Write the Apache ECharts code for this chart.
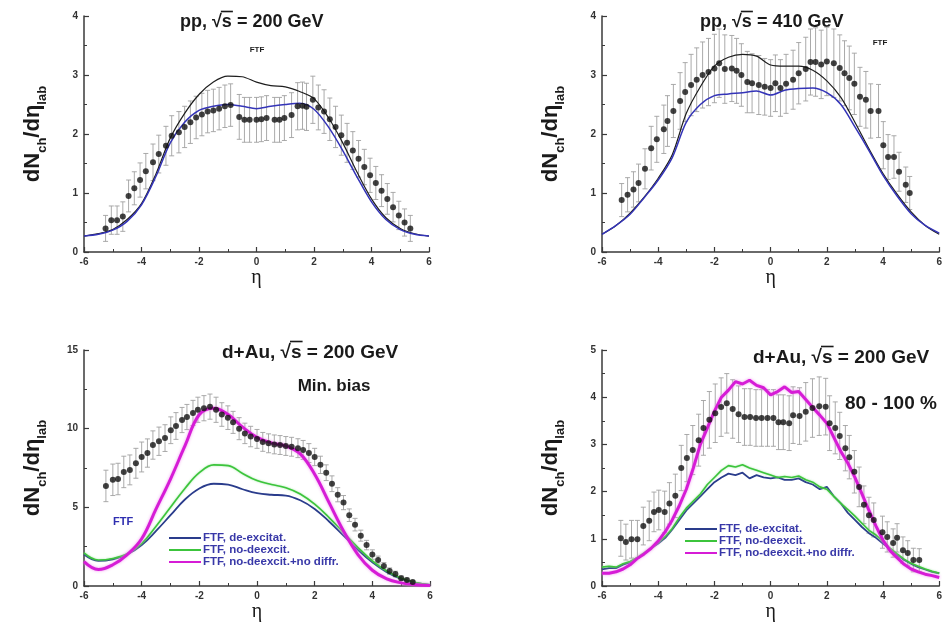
<!DOCTYPE html>
<html><head><meta charset="utf-8">
<script src="https://cdn.jsdelivr.net/npm/echarts@6/dist/echarts.min.js"></script>
<style>html,body{margin:0;padding:0;background:#fff}#c{width:945px;height:625px}</style>
</head><body><div id="c"></div>
<script>
// ---------- curve grids ----------
const eta05 = [-6,-5.5,-5,-4.5,-4,-3.5,-3,-2.5,-2,-1.5,-1,-0.5,0,0.5,1,1.5,2,2.5,3,3.5,4,4.5,5,5.5,6];
const eta025 = [-6,-5.75,-5.5,-5.25,-5,-4.75,-4.5,-4.25,-4,-3.75,-3.5,-3.25,-3,-2.75,-2.5,-2.25,-2,-1.75,-1.5,-1.25,-1,-0.75,-0.5,-0.25,0,0.25,0.5,0.75,1,1.25,1.5,1.75,2,2.25,2.5,2.75,3,3.25,3.5,3.75,4,4.25,4.5,4.75,5,5.25,5.5,5.75,6];

// ---------- panel 1: pp 200 GeV ----------
const p1Black = [0.27,0.31,0.38,0.55,0.82,1.32,1.93,2.35,2.67,2.88,2.98,2.97,2.88,2.82,2.8,2.72,2.6,2.28,1.85,1.35,0.9,0.58,0.4,0.31,0.27];
const p1Blue  = [0.27,0.3,0.37,0.52,0.8,1.28,1.85,2.2,2.4,2.47,2.5,2.47,2.43,2.47,2.5,2.52,2.42,2.12,1.72,1.27,0.85,0.55,0.38,0.3,0.27];
const p1X = [-5.25,-5.05,-4.85,-4.65,-4.45,-4.25,-4.05,-3.85,-3.6,-3.4,-3.15,-2.95,-2.7,-2.5,-2.3,-2.1,-1.9,-1.7,-1.5,-1.3,-1.1,-0.9,-0.6,-0.42,-0.24,0,0.17,0.35,0.63,0.8,0.97,1.22,1.43,1.6,1.74,1.96,2.15,2.35,2.55,2.75,2.95,3.15,3.35,3.55,3.75,3.95,4.15,4.35,4.55,4.75,4.95,5.15,5.35];
const p1Y = [0.4,0.54,0.54,0.6,0.95,1.08,1.22,1.37,1.52,1.66,1.8,1.97,2.03,2.12,2.2,2.28,2.33,2.38,2.4,2.43,2.47,2.49,2.29,2.24,2.24,2.24,2.25,2.27,2.24,2.24,2.27,2.32,2.47,2.48,2.46,2.58,2.45,2.38,2.25,2.12,1.98,1.85,1.72,1.58,1.44,1.3,1.17,1.04,0.9,0.76,0.62,0.5,0.4];
const p1Err = [0.22,0.24,0.24,0.25,0.27,0.28,0.29,0.3,0.31,0.32,0.33,0.34,0.35,0.35,0.36,0.36,0.36,0.36,0.36,0.36,0.36,0.36,0.38,0.38,0.38,0.38,0.38,0.38,0.38,0.38,0.38,0.38,0.4,0.4,0.4,0.4,0.38,0.37,0.36,0.35,0.34,0.33,0.32,0.31,0.3,0.29,0.28,0.27,0.26,0.25,0.24,0.23,0.22];

// ---------- panel 2: pp 410 GeV ----------
const p2Black = [0.3,0.45,0.66,0.93,1.25,1.65,2.35,2.8,3.15,3.3,3.35,3.32,3.17,3.15,3.15,3.08,2.9,2.62,2.2,1.75,1.33,0.98,0.68,0.45,0.3];
const p2Blue  = [0.3,0.45,0.64,0.92,1.22,1.6,2.2,2.5,2.65,2.68,2.7,2.73,2.66,2.74,2.77,2.78,2.7,2.5,2.12,1.72,1.3,0.95,0.65,0.45,0.32];
const p2X = [-5.3,-5.09,-4.88,-4.7,-4.47,-4.25,-4.05,-3.8,-3.67,-3.46,-3.22,-3.04,-2.83,-2.63,-2.42,-2.21,-2.0,-1.83,-1.63,-1.38,-1.21,-1.04,-0.83,-0.66,-0.42,-0.21,0,0.17,0.35,0.55,0.8,1.0,1.25,1.42,1.6,1.8,2.0,2.25,2.46,2.63,2.8,2.98,3.18,3.39,3.56,3.84,4.01,4.18,4.39,4.57,4.81,4.95];
const p2Y = [0.88,0.97,1.06,1.17,1.41,1.76,1.91,2.08,2.22,2.39,2.56,2.71,2.83,2.92,3.0,3.05,3.11,3.2,3.1,3.11,3.07,3.0,2.88,2.86,2.83,2.8,2.78,2.86,2.78,2.85,2.92,3.03,3.1,3.22,3.22,3.18,3.23,3.2,3.12,3.03,2.95,2.85,2.63,2.58,2.39,2.39,1.81,1.61,1.61,1.36,1.14,1.0];
const p2Err = [0.28,0.29,0.3,0.32,0.34,0.37,0.39,0.41,0.43,0.45,0.48,0.5,0.52,0.54,0.56,0.57,0.58,0.58,0.58,0.56,0.55,0.53,0.52,0.5,0.5,0.48,0.48,0.48,0.48,0.5,0.5,0.52,0.54,0.56,0.58,0.58,0.58,0.58,0.56,0.55,0.54,0.52,0.5,0.48,0.46,0.45,0.4,0.38,0.36,0.33,0.3,0.28];

// ---------- panel 3: d+Au min bias ----------
const p3Navy    = [2.0,1.6,1.7,2.0,2.6,3.5,4.5,5.5,6.2,6.5,6.45,6.15,5.9,5.8,5.75,5.45,4.9,4.1,3.2,2.3,1.5,0.88,0.45,0.2,0.07];
const p3Green   = [2.1,1.65,1.75,2.05,2.7,3.8,5.0,6.2,7.2,7.7,7.65,7.15,6.7,6.45,6.25,5.85,5.2,4.35,3.4,2.45,1.6,0.95,0.5,0.22,0.08];
const p3Magenta = [1.55,1.05,1.35,2.0,3.0,4.9,6.8,8.9,10.9,11.3,10.9,10.1,9.45,9.1,8.9,8.4,7.1,5.3,3.5,2.0,1.0,0.45,0.2,0.08,0.03];
const p3X = [-5.24,-5.0,-4.82,-4.62,-4.41,-4.2,-4.0,-3.8,-3.61,-3.4,-3.19,-2.99,-2.81,-2.6,-2.43,-2.22,-2.05,-1.84,-1.63,-1.42,-1.22,-1.01,-0.83,-0.62,-0.42,-0.22,0,0.2,0.4,0.6,0.8,1.0,1.2,1.42,1.6,1.8,2.0,2.2,2.4,2.6,2.8,3.0,3.2,3.4,3.6,3.8,4.0,4.2,4.4,4.6,4.8,5.0,5.2,5.4];
const p3Y = [6.36,6.75,6.8,7.25,7.38,7.8,8.2,8.45,8.96,9.2,9.4,9.9,10.17,10.55,10.74,11.0,11.2,11.3,11.4,11.2,10.9,10.7,10.4,10.0,9.7,9.5,9.35,9.16,9.07,9.0,8.96,8.9,8.85,8.76,8.65,8.45,8.2,7.7,7.2,6.5,5.8,5.3,4.5,3.9,3.2,2.6,2.0,1.65,1.27,0.95,0.76,0.5,0.38,0.25];
const p3Err = [1.0,1.0,1.0,1.0,0.95,0.95,0.95,0.9,0.9,0.9,0.85,0.85,0.85,0.8,0.8,0.8,0.8,0.8,0.8,0.8,0.75,0.75,0.7,0.7,0.65,0.65,0.6,0.6,0.6,0.6,0.6,0.6,0.6,0.6,0.6,0.6,0.55,0.55,0.5,0.5,0.45,0.45,0.4,0.4,0.35,0.3,0.3,0.25,0.22,0.2,0.18,0.15,0.12,0.1];

// ---------- panel 4: d+Au 80-100% ----------
const p4Navy    = [0.35,0.38,0.38,0.45,0.5,0.58,0.68,0.8,0.9,1.02,1.2,1.4,1.6,1.75,1.9,2.05,2.2,2.3,2.38,2.35,2.4,2.28,2.35,2.3,2.28,2.3,2.25,2.25,2.28,2.2,2.15,2.05,2.1,1.9,1.75,1.55,1.4,1.25,1.12,1.02,0.9,0.78,0.66,0.55,0.47,0.4,0.35,0.3,0.27];
const p4Green   = [0.4,0.42,0.4,0.47,0.52,0.6,0.7,0.8,0.92,1.05,1.22,1.45,1.65,1.8,1.95,2.15,2.3,2.45,2.55,2.52,2.57,2.5,2.45,2.4,2.35,2.3,2.32,2.3,2.33,2.25,2.2,2.1,2.05,1.9,1.75,1.62,1.48,1.33,1.18,1.08,0.95,0.8,0.68,0.57,0.48,0.42,0.36,0.31,0.27];
const p4Magenta = [0.27,0.27,0.3,0.36,0.45,0.58,0.68,0.8,0.95,1.15,1.4,1.7,2.05,2.5,3.0,3.35,3.7,4.0,4.15,4.33,4.28,4.36,4.25,4.2,4.05,4.12,4.22,4.1,4.12,3.95,3.78,3.62,3.45,3.15,2.85,2.6,2.3,1.95,1.6,1.27,0.97,0.75,0.6,0.46,0.36,0.3,0.25,0.22,0.18];
const p4X = [-5.33,-5.15,-4.95,-4.74,-4.53,-4.32,-4.15,-3.98,-3.77,-3.6,-3.39,-3.18,-2.98,-2.77,-2.56,-2.39,-2.18,-1.97,-1.76,-1.56,-1.35,-1.14,-0.93,-0.73,-0.52,-0.32,-0.11,0.1,0.28,0.45,0.66,0.8,1.03,1.25,1.49,1.73,1.96,2.1,2.3,2.46,2.66,2.8,2.98,3.15,3.32,3.5,3.67,3.98,4.15,4.36,4.5,4.71,4.88,5.08,5.29];
const p4Y = [1.01,0.93,0.99,0.99,1.27,1.38,1.57,1.61,1.57,1.75,1.91,2.5,2.71,2.88,3.09,3.35,3.52,3.66,3.79,3.87,3.75,3.64,3.58,3.58,3.56,3.56,3.56,3.56,3.47,3.47,3.45,3.62,3.6,3.69,3.77,3.81,3.8,3.45,3.35,3.18,2.92,2.73,2.42,2.1,1.72,1.5,1.4,1.14,1.04,0.91,1.02,0.76,0.7,0.55,0.55];
const p4Err = [0.38,0.38,0.4,0.4,0.4,0.42,0.42,0.42,0.44,0.44,0.46,0.48,0.5,0.52,0.55,0.58,0.6,0.62,0.62,0.63,0.62,0.6,0.6,0.6,0.6,0.6,0.6,0.6,0.58,0.58,0.58,0.6,0.6,0.62,0.62,0.62,0.6,0.58,0.55,0.5,0.48,0.46,0.45,0.42,0.4,0.38,0.36,0.34,0.32,0.3,0.3,0.28,0.26,0.25,0.24];

// ---------- axis / text ----------
const xTicks = {min:-6, max:6, interval:2};
const yRanges = [{min:0,max:4,interval:1},{min:0,max:4,interval:1},{min:0,max:15,interval:5},{min:0,max:5,interval:1}];
const legendNames = ['FTF, de-excitat.','FTF, no-deexcit.','FTF, no-deexcit.+no diffr.'];

const FONT = '"Liberation Sans", Arial, sans-serif';
const grids = [
  {left:84, top:16, width:345, height:236},
  {left:602, top:16, width:347, height:236},
  {left:84, top:350, width:346, height:236},
  {left:602, top:350, width:347, height:236}
];
const axisCol = '#3a3a3a';
function xAxis(i){
  return {type:'value', gridIndex:i, min:xTicks.min, max:xTicks.max, interval:xTicks.interval,
    name:'η', nameLocation:'middle', nameGap:10,
    nameTextStyle:{fontFamily:'"Liberation Serif", serif', fontSize:20, color:'#1a1a1a', verticalAlign:'top'},
    axisLine:{onZero:false, lineStyle:{color:axisCol, width:1.5}},
    axisTick:{inside:true, length:5, lineStyle:{color:axisCol, width:1.2}},
    minorTick:{show:true, splitNumber:2, length:3, lineStyle:{color:axisCol, width:1}},
    axisLabel:{color:'#333', fontWeight:'bold', fontSize:10, fontFamily:FONT, margin:5},
    splitLine:{show:false}};
}
function yAxis(i){
  const r = yRanges[i];
  return {type:'value', gridIndex:i, min:r.min, max:r.max, interval:r.interval,
    name:'{a|dN}{b|ch}{a|/dη}{b|lab}', nameLocation:'middle', nameGap:38,
    nameTextStyle:{rich:{
      a:{fontSize:22, fontWeight:'bold', fontFamily:FONT, color:'#1a1a1a', verticalAlign:'top', lineHeight:24},
      b:{fontSize:13, fontWeight:'bold', fontFamily:FONT, color:'#1a1a1a', verticalAlign:'top', lineHeight:15, padding:[14,0,0,0]}}},
    axisLine:{show:true, onZero:false, lineStyle:{color:axisCol, width:1.5}},
    axisTick:{show:true, inside:true, length:5, lineStyle:{color:axisCol, width:1.2}},
    minorTick:{show:true, splitNumber:2, length:3, lineStyle:{color:axisCol, width:1}},
    axisLabel:{color:'#333', fontWeight:'bold', fontSize:10, fontFamily:FONT, margin:6},
    splitLine:{show:false}};
}

function pairs(xs, ys){ return xs.map((x,k)=>[x, ys[k]]); }
function errs(xs, ys, es){ return xs.map((x,k)=>[x, ys[k]-es[k], ys[k]+es[k]]); }
function renderErr(params, api){
  const x = api.value(0), lo = api.value(1), hi = api.value(2);
  const a = api.coord([x, hi]), b = api.coord([x, lo]);
  const w = 2.5, st = {stroke:'#a0a0a0', lineWidth:0.9};
  return {type:'group', children:[
    {type:'line', shape:{x1:a[0],y1:a[1],x2:b[0],y2:b[1]}, style:st},
    {type:'line', shape:{x1:a[0]-w,y1:a[1],x2:a[0]+w,y2:a[1]}, style:st},
    {type:'line', shape:{x1:b[0]-w,y1:b[1],x2:b[0]+w,y2:b[1]}, style:st}]};
}
function errSeries(i, xs, ys, es){
  return {type:'custom', xAxisIndex:i, yAxisIndex:i, renderItem:renderErr, data:errs(xs,ys,es),
    encode:{x:0, y:[1,2]}, z:1, silent:true};
}
function dotSeries(i, xs, ys){
  return {type:'scatter', xAxisIndex:i, yAxisIndex:i, data:pairs(xs,ys), symbol:'circle', symbolSize:6,
    itemStyle:{color:'#111'}, z:4, silent:true};
}
function lineSeries(i, name, xs, ys, style, smooth){
  return {type:'line', name, xAxisIndex:i, yAxisIndex:i, data:pairs(xs,ys), symbol:'none', showSymbol:false,
    smooth:smooth, lineStyle:style, itemStyle:{color:style.color}, z:3, silent:true};
}
const navyStyle = {color:'#2a3c8c', width:1.8};
const greenStyle = {color:'#3cc43c', width:1.6, shadowColor:'rgba(120,220,120,0.7)', shadowBlur:2};
const magStyle = {color:'#d61cd6', width:3, shadowColor:'rgba(240,140,240,0.9)', shadowBlur:3};

const series = [
  errSeries(0, p1X, p1Y, p1Err),
  lineSeries(0, 'FTF', eta05, p1Black, {color:'#1e1e1e', width:1.2}, 0.3),
  lineSeries(0, 'FTF blue', eta05, p1Blue, {color:'#3434b8', width:1.5}, 0.3),
  dotSeries(0, p1X, p1Y),

  errSeries(1, p2X, p2Y, p2Err),
  lineSeries(1, 'FTF', eta05, p2Black, {color:'#1e1e1e', width:1.2}, 0.3),
  lineSeries(1, 'FTF blue', eta05, p2Blue, {color:'#3434b8', width:1.5}, 0.3),
  dotSeries(1, p2X, p2Y),

  errSeries(2, p3X, p3Y, p3Err),
  lineSeries(2, legendNames[0], eta05, p3Navy, navyStyle, 0.4),
  lineSeries(2, legendNames[1], eta05, p3Green, greenStyle, 0.4),
  lineSeries(2, legendNames[2], eta05, p3Magenta, magStyle, 0.4),
  dotSeries(2, p3X, p3Y),

  errSeries(3, p4X, p4Y, p4Err),
  lineSeries(3, legendNames[0], eta025, p4Navy, navyStyle, false),
  lineSeries(3, legendNames[1], eta025, p4Green, greenStyle, false),
  lineSeries(3, legendNames[2], eta025, p4Magenta, magStyle, false),
  dotSeries(3, p4X, p4Y)
];

// ---------- titles with overline on s ----------
const mctx = document.createElement('canvas').getContext('2d');
function title(text, left, cy, size){
  const font = 'bold ' + size + 'px ' + FONT;
  mctx.font = font;
  const i = text.indexOf('√');
  const sx = left + mctx.measureText(text.slice(0, i+1)).width;
  const sw = mctx.measureText('s').width;
  const oy = Math.round(cy - size*0.62) + 0.5;
  return [
    {type:'text', silent:true, style:{text, x:left, y:cy, fontSize:size, fontWeight:'bold', fontFamily:FONT, fill:'#1a1a1a', align:'left', verticalAlign:'middle'}},
    {type:'line', silent:true, shape:{x1:sx-1, y1:oy, x2:sx+sw+1, y2:oy}, style:{stroke:'#1a1a1a', lineWidth:1.6}}
  ];
}
function label(text, x, cy, size, color, align){
  return {type:'text', silent:true, style:{text, x, y:cy, fontSize:size, fontWeight:'bold', fontFamily:FONT, fill:color, align:align||'left', verticalAlign:'middle'}};
}
const graphics = [].concat(
  title('pp, √s = 200 GeV', 180, 22, 18),
  title('pp, √s = 410 GeV', 700, 22, 18),
  title('d+Au, √s = 200 GeV', 222, 353, 19),
  title('d+Au, √s = 200 GeV', 753, 358, 19),
  [label('FTF', 257, 50, 8, '#1a1a1a', 'center'),
   label('FTF', 880, 43, 8, '#1a1a1a', 'center'),
   label('Min. bias', 334, 386, 17, '#1a1a1a', 'center'),
   label('80 - 100 %', 845, 404, 19, '#1a1a1a', 'left'),
   label('FTF', 113, 522, 11, '#2f2fb0', 'left')]
);

function legend(left, top){
  return {data:legendNames, orient:'vertical', left, top, padding:0, itemGap:0, itemWidth:32, itemHeight:10,
    selectedMode:false, itemStyle:{opacity:0},
    textStyle:{fontSize:11.5, fontWeight:'bold', color:'#3838a8', fontFamily:FONT, padding:[0,0,0,-3]}};
}

const chart = echarts.init(document.getElementById('c'), null, {renderer:'canvas'});
chart.setOption({
  animation:false,
  backgroundColor:'#fff',
  grid:grids,
  xAxis:[0,1,2,3].map(xAxis),
  yAxis:[0,1,2,3].map(yAxis),
  legend:[legend(168, 532), legend(684, 523)],
  series,
  graphic:graphics
});
</script></body></html>
